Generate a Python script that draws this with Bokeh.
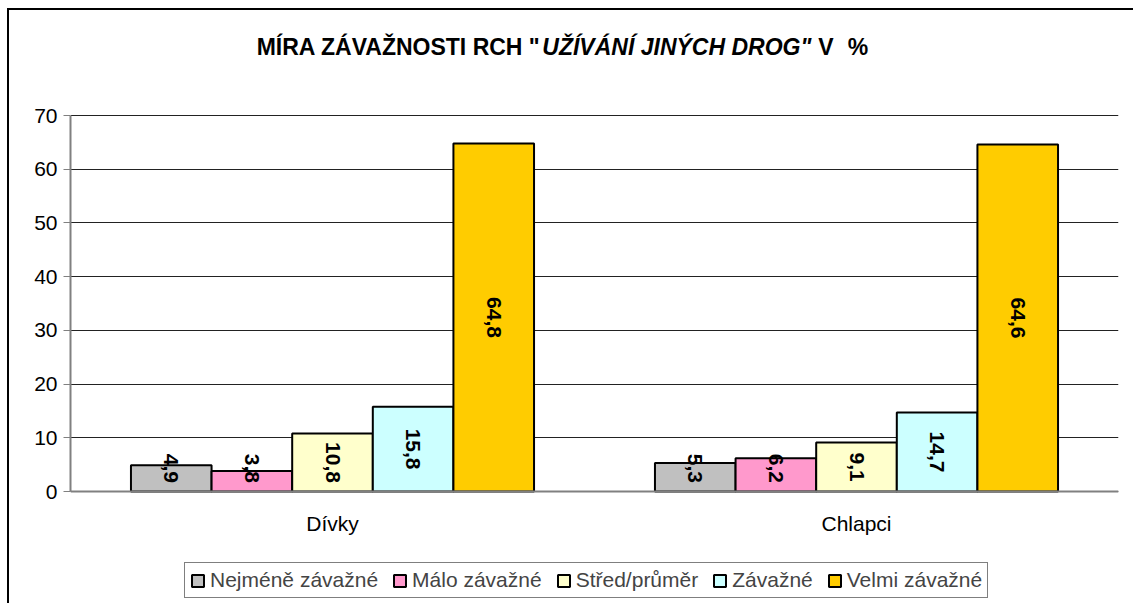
import math
from bokeh.plotting import figure
from bokeh.models import (ColumnDataSource, FactorRange, Range1d, Label, Legend,
                          LegendItem, FixedTicker, NumeralTickFormatter)
from bokeh.transform import dodge
from bokeh.core.properties import value
from bokeh.embed import file_html
from bokeh.resources import INLINE

# ---------------- data ----------------
categories = ["Dívky", "Chlapci"]
series_names = ["Nejméně závažné", "Málo závažné", "Střed/průměr", "Závažné", "Velmi závažné"]
nejmene = [4.9, 5.3]
malo = [3.8, 6.2]
stred = [10.8, 9.1]
zavazne = [15.8, 14.7]
velmi = [64.8, 64.6]
series_values = [nejmene, malo, stred, zavazne, velmi]
colors = ["#C0C0C0", "#FF99CC", "#FFFFCC", "#CCFFFF", "#FFCC00"]
y_ticks = [0, 10, 20, 30, 40, 50, 60, 70]
title_parts = ['MÍRA ZÁVAŽNOSTI RCH "', 'UŽÍVÁNÍ JINÝCH DROG"', 'V', '%']

# ---------------- layout constants (page pixels) ----------------
ORG_X, ORG_Y = 9, 10            # figure content origin on the page
W, H = 1126, 595
PLOT_L, PLOT_R = 70, 1118       # plot area (0..70 region)
PLOT_T, PLOT_B = 115, 491
FRAME_T, FRAME_B = 12, 603      # frame extended to host title and legend
Y_MAX = 70
FONT = "Liberation Sans"

px_per_y = (PLOT_B - PLOT_T) / Y_MAX
y_end = (PLOT_B - FRAME_T) / px_per_y
y_start = -(FRAME_B - PLOT_B) / px_per_y

p = figure(x_range=FactorRange(factors=categories, range_padding=0),
           y_range=Range1d(y_start, y_end),
           width=W, height=H, output_backend="svg", toolbar_location=None,
           min_border_left=PLOT_L - ORG_X, min_border_right=ORG_X + W - PLOT_R,
           min_border_top=FRAME_T - ORG_Y, min_border_bottom=ORG_Y + H - FRAME_B,
           background_fill_color="white", border_fill_color="white",
           outline_line_color=None)
p.styles = {"margin-left": "7px", "margin-top": "8px",
            "border-top": "2px solid #000000", "border-left": "2px solid #000000"}

n = len(series_names)
bar_w = 1.0 / (n + 1.5)
renderers = []
for j, (name, vals, col) in enumerate(zip(series_names, series_values, colors)):
    off = (j - (n - 1) / 2) * bar_w
    src = ColumnDataSource(dict(cat=categories, val=vals,
                                lab=[f"{v:.1f}".replace(".", ",") for v in vals],
                                ly=[max(v / 2, 4.3) for v in vals]))
    r = p.vbar(x=dodge("cat", off, range=p.x_range), top="val", bottom=0,
               width=bar_w, source=src, fill_color=col,
               line_color="black", line_width=2)
    renderers.append(r)
    p.text(x=dodge("cat", off, range=p.x_range), y="ly", text="lab", source=src,
           angle=-math.pi / 2, text_align="center", text_baseline="middle",
           text_font=value(FONT), text_font_size="21px", text_font_style="bold",
           text_color="black")

# axes
p.xgrid.grid_line_color = None
p.ygrid.ticker = FixedTicker(ticks=y_ticks)
p.ygrid.grid_line_color = "#222222"
p.ygrid.grid_line_width = 1
p.yaxis.ticker = FixedTicker(ticks=y_ticks)
p.yaxis.bounds = (0, Y_MAX)
p.yaxis.formatter = NumeralTickFormatter(format="0")
p.yaxis.axis_line_color = "#808080"
p.yaxis.axis_line_width = 2
p.yaxis.major_tick_line_color = "#808080"
p.yaxis.major_tick_line_width = 1
p.yaxis.major_tick_out = 7
p.yaxis.major_tick_in = 0
p.yaxis.minor_tick_line_color = None
p.yaxis.major_label_standoff = 6
p.yaxis.major_label_text_font = FONT
p.yaxis.major_label_text_font_size = "21px"
p.yaxis.major_label_text_color = "black"

p.xaxis.fixed_location = 0
p.xaxis.axis_line_color = "#808080"
p.xaxis.axis_line_width = 2
p.xaxis.major_tick_line_color = None
p.xaxis.major_tick_out = 0
p.xaxis.major_tick_in = 0
p.xaxis.minor_tick_line_color = None
p.xaxis.major_label_standoff = 20
p.xaxis.major_label_text_font = FONT
p.xaxis.major_label_text_font_size = "21px"
p.xaxis.major_label_text_color = "black"

# title (mixed bold / bold italic), placed in data coordinates inside the frame
px_per_x = (PLOT_R - PLOT_L) / len(categories)
def dx(px):
    return (px - PLOT_L) / px_per_x
def dy(py):
    return (PLOT_B - py) / px_per_y

TS = 23
w1 = 12.418 * TS        # 'MÍRA ZÁVAŽNOSTI RCH "'
w2 = 11.697 * TS        # 'UŽÍVÁNÍ JINÝCH DROG"'
gap1 = 0.30 * TS
wv = 0.667 * TS         # 'V'
gap2 = 0.62 * TS
wp = 0.889 * TS         # '%'
total = w1 + w2 + gap1 + wv + gap2 + wp
cx = 562
start = cx - total / 2
base = 46
positions = [start, start + w1, start + w1 + w2 + gap1, start + w1 + w2 + gap1 + wv + gap2]
styles = ["bold", "bold italic", "bold", "bold"]
for txt, xpx, style in zip(title_parts, positions, styles):
    p.add_layout(Label(x=dx(xpx), y=dy(base), text=txt, text_align="left",
                       text_baseline="alphabetic", text_font=FONT,
                       text_font_size=f"{TS}px", text_font_style=style,
                       text_color="black"))

# legend inside the (extended) frame, below the category labels
legend = Legend(items=[LegendItem(label=nm, renderers=[r]) for nm, r in zip(series_names, renderers)],
                orientation="horizontal", location=(184 - PLOT_L, FRAME_B - 598),
                label_text_font=FONT, label_text_font_size="21px",
                glyph_width=15, glyph_height=15, label_standoff=5, spacing=14,
                padding=5, margin=0, border_line_color="black", border_line_width=1,
                background_fill_color="white", background_fill_alpha=1.0,
                label_height=22)
p.add_layout(legend, "center")

open("out.html", "w").write(file_html(p, INLINE))
